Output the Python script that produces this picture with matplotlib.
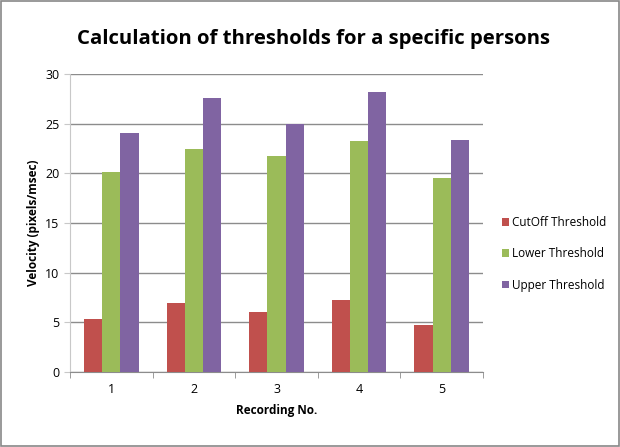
import numpy as np
import matplotlib
matplotlib.use("Agg")
from matplotlib import pyplot as plt
from matplotlib.patches import Rectangle

recordings = ["1", "2", "3", "4", "5"]
cutoff = [5.3, 6.9, 6.0, 7.2, 4.7]
lower = [20.1, 22.5, 21.8, 23.3, 19.5]
upper = [24.1, 27.6, 25.0, 28.2, 23.4]

series_names = ["CutOff Threshold", "Lower Threshold", "Upper Threshold"]
colors = ["#C0504D", "#9BBB59", "#8064A2"]

plt.rcParams['font.family'] = ['Open Sans', 'DejaVu Sans']

fig = plt.figure(figsize=(6.2, 4.47), dpi=100)
fig.patches.append(Rectangle((0.002, 0.002), 0.996, 0.996, transform=fig.transFigure,
                             fill=False, edgecolor="#888888", linewidth=1.2))
ax = fig.add_axes([0.113, 0.168, 0.666, 0.666])

ind = np.arange(1, len(recordings) + 1)
width = 0.22
for k, vals in enumerate([cutoff, lower, upper]):
    ax.bar(ind + (k - 1) * width, vals, width, color=colors[k],
           label=series_names[k], zorder=3)

ax.set_xlim(0.5, 5.5)
ax.set_ylim(0, 30)
ax.set_yticks(range(0, 31, 5))
ax.set_xticks(ind)
ax.set_xticklabels(recordings)
ax.set_xticks(np.arange(0.5, 5.6, 1), minor=True)
ax.yaxis.grid(True, color="#8c8c8c", linewidth=1.0, zorder=0)
for s in ["top", "right"]:
    ax.spines[s].set_visible(False)
ax.spines["left"].set_color("#c8c8c8")
ax.spines["bottom"].set_color("#8c8c8c")
ax.tick_params(axis="x", which="major", length=0, labelsize=9, pad=8)
ax.tick_params(axis="x", which="minor", length=4, color="#8c8c8c")
ax.tick_params(axis="y", length=4, color="#c8c8c8", labelsize=9)

ax.set_ylabel("Velocity (pixels/msec)", fontsize=8.5, fontweight="bold")
ax.set_xlabel("Recording No.", fontsize=8.5, fontweight="bold", labelpad=6)
fig.text(0.505, 0.913, "Calculation of thresholds for a specific persons",
         ha="center", va="center", fontsize=14.7, fontweight="bold")

ax.legend(loc="center left", bbox_to_anchor=(1.02, 0.397), frameon=False,
          fontsize=8.5, handlelength=0.6, handleheight=0.6, handletextpad=0.3,
          labelspacing=1.55)

fig.savefig("out.png", dpi=100)
